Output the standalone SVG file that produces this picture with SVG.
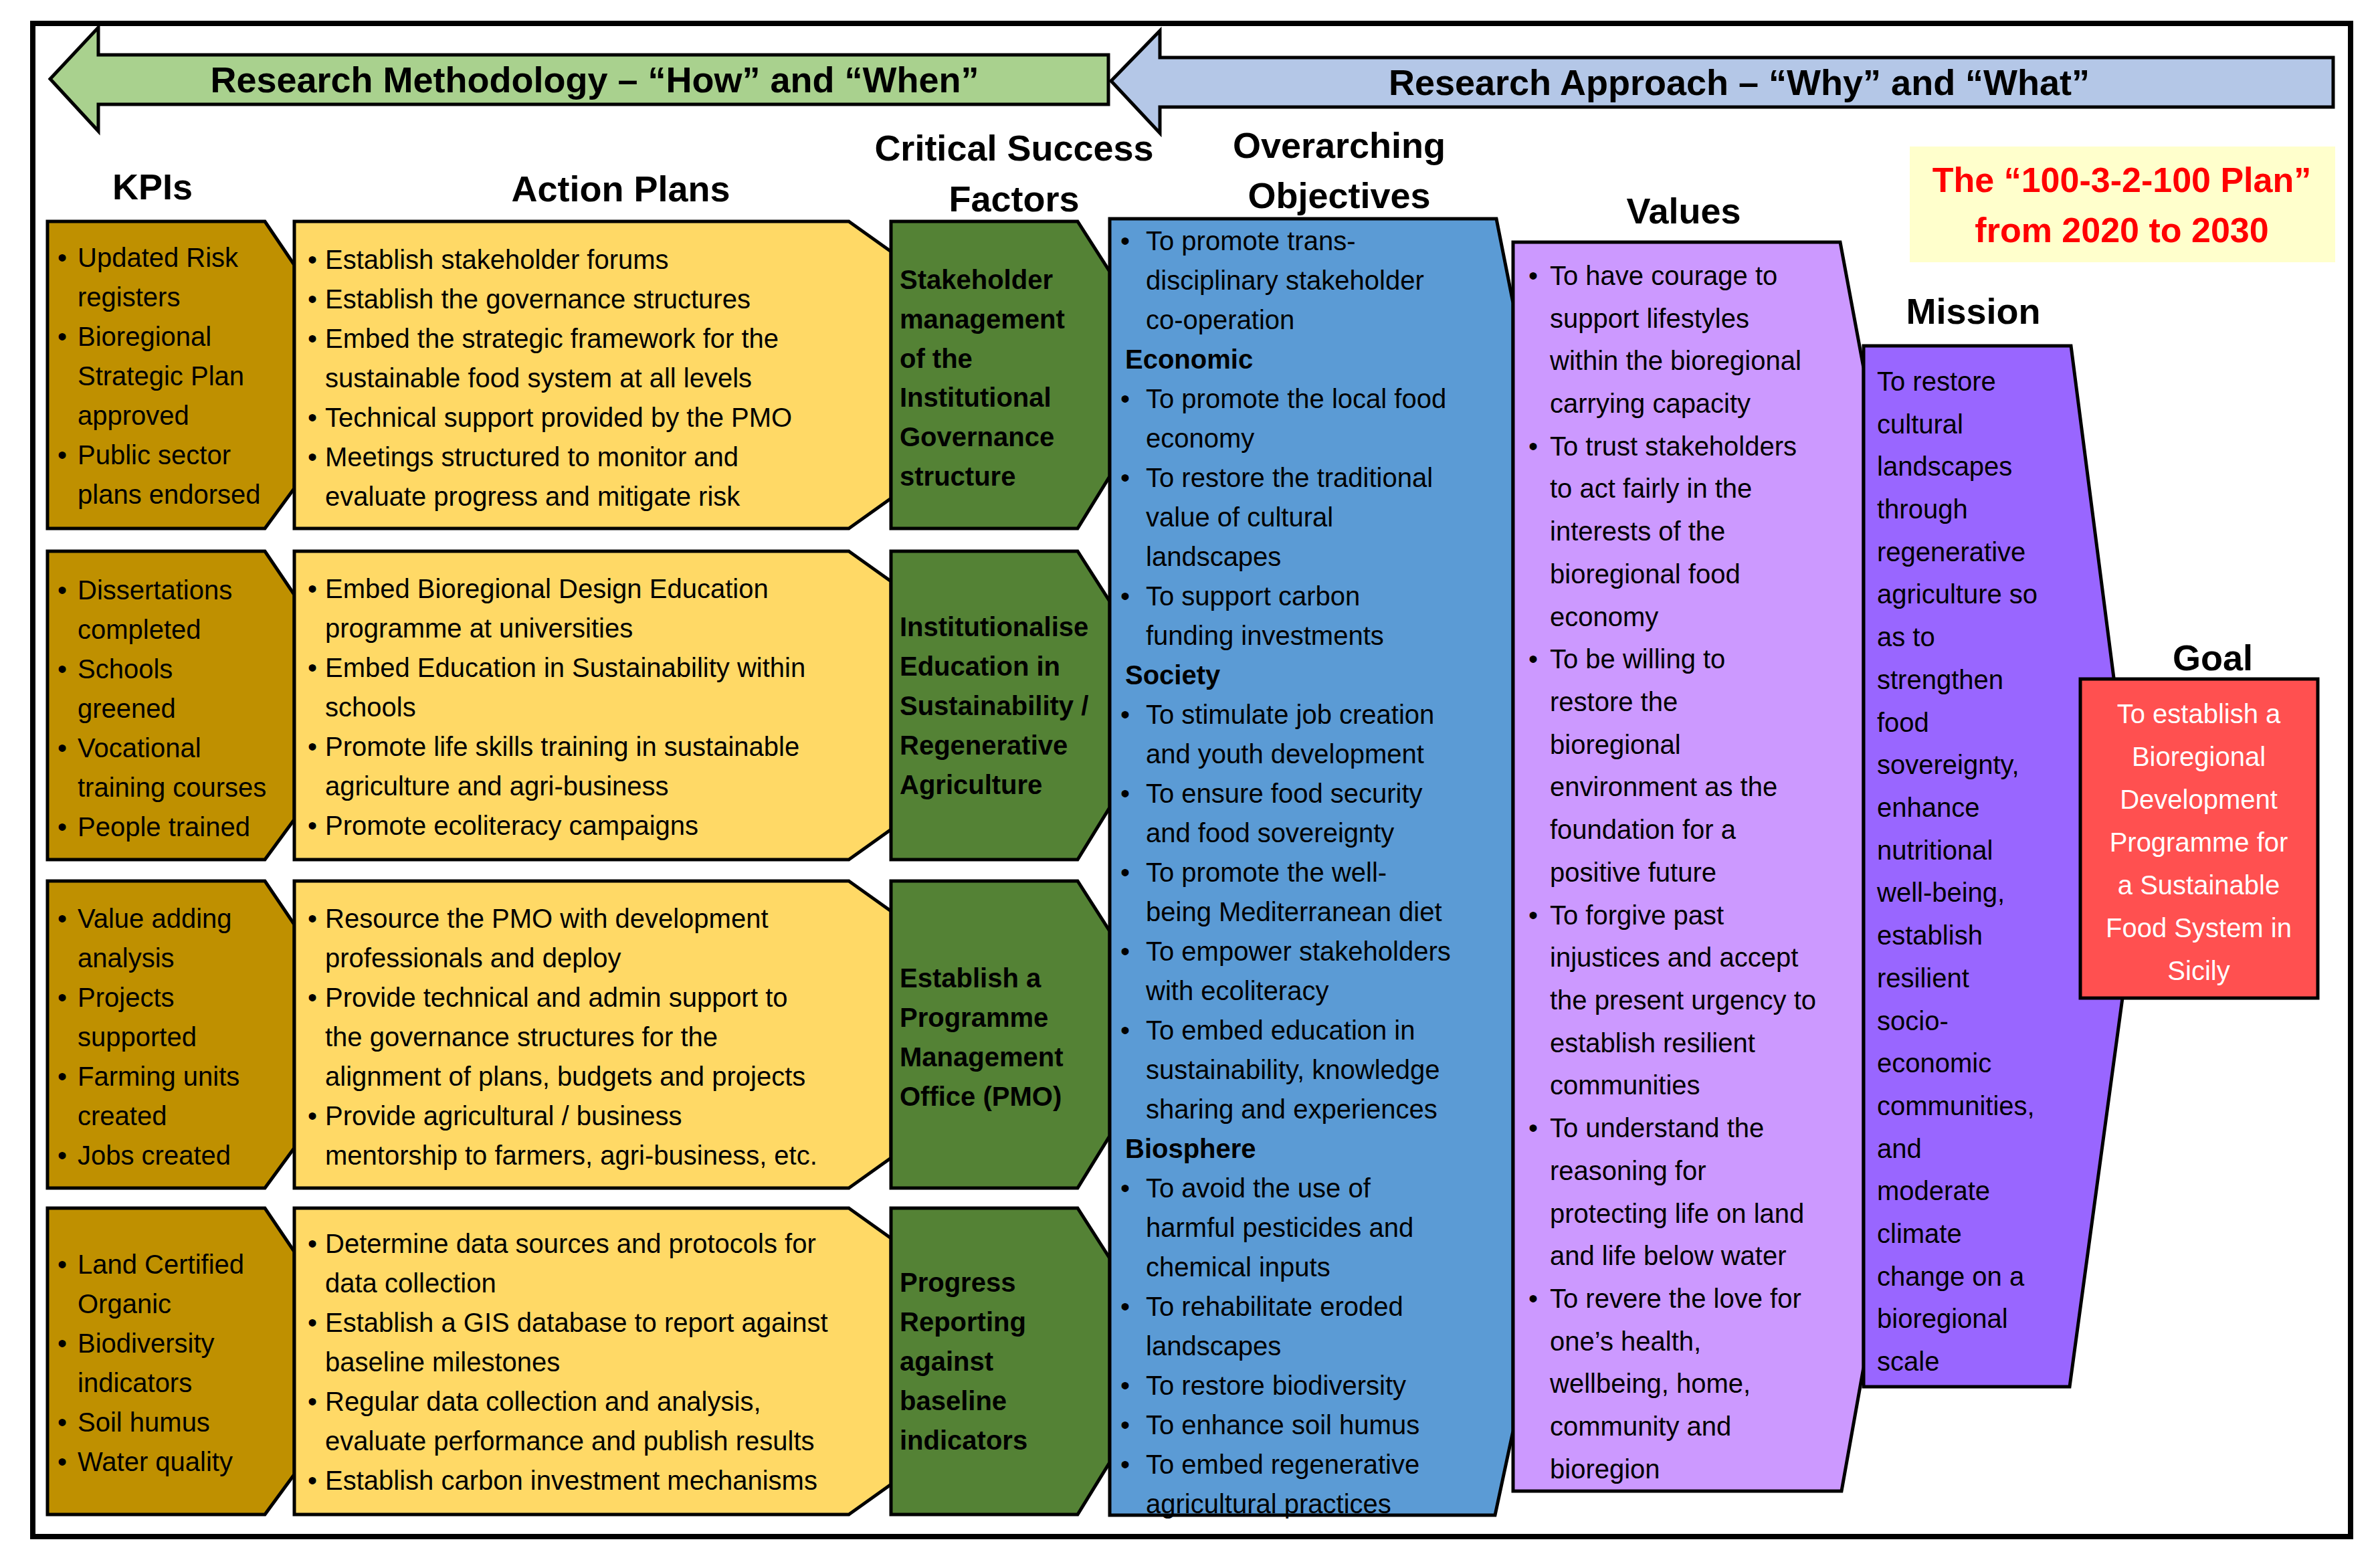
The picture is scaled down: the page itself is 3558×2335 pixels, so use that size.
<svg xmlns="http://www.w3.org/2000/svg" width="3558" height="2335" viewBox="0 0 3558 2335">
<style>
text{font-family:"Liberation Sans",Arial,sans-serif;font-size:40px;fill:#000}
.h{font-size:54px;font-weight:bold;text-anchor:middle}
.b{font-weight:bold}
.s{stroke:#000;stroke-width:5;stroke-linejoin:miter}
.kpi{fill:#BF9000}.ap{fill:#FFD966}.csf{fill:#548235}
.w{fill:#fff}
</style>
<rect x="49" y="35" width="3465" height="2262" fill="#fff" stroke="#000" stroke-width="8"/>
<g id="connectors">
<polygon class="s" fill="#A9D18E" points="75,118 147,41 147,82 1657,82 1657,156 147,156 147,196"/>
<polygon class="s" fill="#B4C7E7" points="1661,121 1734,46 1734,86 3488,86 3488,160 1734,160 1734,199"/>
<text class="h" x="889" y="138">Research Methodology – “How” and “When”</text>
<text class="h" x="2600" y="142">Research Approach – “Why” and “What”</text>
</g>
<g id="headers">
<text class="h" x="228" y="298">KPIs</text>
<text class="h" x="928" y="301">Action Plans</text>
<text class="h" x="1516" y="240">Critical Success</text>
<text class="h" x="1516" y="316">Factors</text>
<text class="h" x="2002" y="236">Overarching</text>
<text class="h" x="2002" y="311">Objectives</text>
<text class="h" x="2517" y="334">Values</text>
<text class="h" x="2950" y="484">Mission</text>
<text class="h" x="3308" y="1002">Goal</text>
</g>
<g id="title">
<rect x="2855" y="219" width="636" height="173" fill="#FFFFCC"/>
<text class="h" x="3172" y="287" style="fill:#FF0000;font-size:52px">The “100-3-2-100 Plan”</text>
<text class="h" x="3172" y="362" style="fill:#FF0000;font-size:52px">from 2020 to 2030</text>
</g>
<g id="kpi1"><polygon class="s kpi" points="71,331 396,331 440,396 440,730 396,790 71,790"/>
<text><tspan x="86" y="399">•</tspan><tspan x="116" y="399">Updated Risk</tspan><tspan x="116" y="458">registers</tspan><tspan x="86" y="517">•</tspan><tspan x="116" y="517">Bioregional</tspan><tspan x="116" y="576">Strategic Plan</tspan><tspan x="116" y="635">approved</tspan><tspan x="86" y="694">•</tspan><tspan x="116" y="694">Public sector</tspan><tspan x="116" y="753">plans endorsed</tspan></text></g>
<g id="kpi2"><polygon class="s kpi" points="71,824 396,824 440,889 440,1225 396,1285 71,1285"/>
<text><tspan x="86" y="896">•</tspan><tspan x="116" y="896">Dissertations</tspan><tspan x="116" y="955">completed</tspan><tspan x="86" y="1014">•</tspan><tspan x="116" y="1014">Schools</tspan><tspan x="116" y="1073">greened</tspan><tspan x="86" y="1132">•</tspan><tspan x="116" y="1132">Vocational</tspan><tspan x="116" y="1191">training courses</tspan><tspan x="86" y="1250">•</tspan><tspan x="116" y="1250">People trained</tspan></text></g>
<g id="kpi3"><polygon class="s kpi" points="71,1317 396,1317 440,1382 440,1716 396,1776 71,1776"/>
<text><tspan x="86" y="1387">•</tspan><tspan x="116" y="1387">Value adding</tspan><tspan x="116" y="1446">analysis</tspan><tspan x="86" y="1505">•</tspan><tspan x="116" y="1505">Projects</tspan><tspan x="116" y="1564">supported</tspan><tspan x="86" y="1623">•</tspan><tspan x="116" y="1623">Farming units</tspan><tspan x="116" y="1682">created</tspan><tspan x="86" y="1741">•</tspan><tspan x="116" y="1741">Jobs created</tspan></text></g>
<g id="kpi4"><polygon class="s kpi" points="71,1806 396,1806 440,1871 440,2204 396,2264 71,2264"/>
<text><tspan x="86" y="1904">•</tspan><tspan x="116" y="1904">Land Certified</tspan><tspan x="116" y="1963">Organic</tspan><tspan x="86" y="2022">•</tspan><tspan x="116" y="2022">Biodiversity</tspan><tspan x="116" y="2081">indicators</tspan><tspan x="86" y="2140">•</tspan><tspan x="116" y="2140">Soil humus</tspan><tspan x="86" y="2199">•</tspan><tspan x="116" y="2199">Water quality</tspan></text></g>
<g id="ap1"><polygon class="s ap" points="440,331 1269,331 1332,376 1332,745 1269,790 440,790"/>
<text><tspan x="460" y="402">•</tspan><tspan x="486" y="402">Establish stakeholder forums</tspan><tspan x="460" y="461">•</tspan><tspan x="486" y="461">Establish the governance structures</tspan><tspan x="460" y="520">•</tspan><tspan x="486" y="520">Embed the strategic framework for the</tspan><tspan x="486" y="579">sustainable food system at all levels</tspan><tspan x="460" y="638">•</tspan><tspan x="486" y="638">Technical support provided by the PMO</tspan><tspan x="460" y="697">•</tspan><tspan x="486" y="697">Meetings structured to monitor and</tspan><tspan x="486" y="756">evaluate progress and mitigate risk</tspan></text></g>
<g id="ap2"><polygon class="s ap" points="440,824 1269,824 1332,869 1332,1240 1269,1285 440,1285"/>
<text><tspan x="460" y="894">•</tspan><tspan x="486" y="894">Embed Bioregional Design Education</tspan><tspan x="486" y="953">programme at universities</tspan><tspan x="460" y="1012">•</tspan><tspan x="486" y="1012">Embed Education in Sustainability within</tspan><tspan x="486" y="1071">schools</tspan><tspan x="460" y="1130">•</tspan><tspan x="486" y="1130">Promote life skills training in sustainable</tspan><tspan x="486" y="1189">agriculture and agri-business</tspan><tspan x="460" y="1248">•</tspan><tspan x="486" y="1248">Promote ecoliteracy campaigns</tspan></text></g>
<g id="ap3"><polygon class="s ap" points="440,1317 1269,1317 1332,1362 1332,1731 1269,1776 440,1776"/>
<text><tspan x="460" y="1387">•</tspan><tspan x="486" y="1387">Resource the PMO with development</tspan><tspan x="486" y="1446">professionals and deploy</tspan><tspan x="460" y="1505">•</tspan><tspan x="486" y="1505">Provide technical and admin support to</tspan><tspan x="486" y="1564">the governance structures for the</tspan><tspan x="486" y="1623">alignment of plans, budgets and projects</tspan><tspan x="460" y="1682">•</tspan><tspan x="486" y="1682">Provide agricultural / business</tspan><tspan x="486" y="1741">mentorship to farmers, agri-business, etc.</tspan></text></g>
<g id="ap4"><polygon class="s ap" points="440,1806 1269,1806 1332,1851 1332,2219 1269,2264 440,2264"/>
<text><tspan x="460" y="1873">•</tspan><tspan x="486" y="1873">Determine data sources and protocols for</tspan><tspan x="486" y="1932">data collection</tspan><tspan x="460" y="1991">•</tspan><tspan x="486" y="1991">Establish a GIS database to report against</tspan><tspan x="486" y="2050">baseline milestones</tspan><tspan x="460" y="2109">•</tspan><tspan x="486" y="2109">Regular data collection and analysis,</tspan><tspan x="486" y="2168">evaluate performance and publish results</tspan><tspan x="460" y="2227">•</tspan><tspan x="486" y="2227">Establish carbon investment mechanisms</tspan></text></g>
<g id="csf1"><polygon class="s csf" points="1332,331 1611,331 1659,406 1659,712 1611,790 1332,790"/>
<text class="b"><tspan x="1345" y="432">Stakeholder</tspan><tspan x="1345" y="491">management</tspan><tspan x="1345" y="550">of the</tspan><tspan x="1345" y="608">Institutional</tspan><tspan x="1345" y="667">Governance</tspan><tspan x="1345" y="726">structure</tspan></text></g>
<g id="csf2"><polygon class="s csf" points="1332,824 1611,824 1659,899 1659,1207 1611,1285 1332,1285"/>
<text class="b"><tspan x="1345" y="951">Institutionalise</tspan><tspan x="1345" y="1010">Education in</tspan><tspan x="1345" y="1069">Sustainability /</tspan><tspan x="1345" y="1128">Regenerative</tspan><tspan x="1345" y="1187">Agriculture</tspan></text></g>
<g id="csf3"><polygon class="s csf" points="1332,1317 1611,1317 1659,1392 1659,1698 1611,1776 1332,1776"/>
<text class="b"><tspan x="1345" y="1476">Establish a</tspan><tspan x="1345" y="1535">Programme</tspan><tspan x="1345" y="1594">Management</tspan><tspan x="1345" y="1653">Office (PMO)</tspan></text></g>
<g id="csf4"><polygon class="s csf" points="1332,1806 1611,1806 1659,1881 1659,2186 1611,2264 1332,2264"/>
<text class="b"><tspan x="1345" y="1931">Progress</tspan><tspan x="1345" y="1990">Reporting</tspan><tspan x="1345" y="2049">against</tspan><tspan x="1345" y="2108">baseline</tspan><tspan x="1345" y="2167">indicators</tspan></text></g>
<g id="objectives"><polygon class="s" fill="#5B9BD5" points="1659,327 2237,327 2262,453 2262,2139 2235,2265 1659,2265"/>
<text><tspan x="1675" y="374">•</tspan><tspan x="1713" y="374">To promote trans-</tspan><tspan x="1713" y="433">disciplinary stakeholder</tspan><tspan x="1713" y="492">co-operation</tspan><tspan x="1682" y="551" font-weight="bold">Economic</tspan><tspan x="1675" y="610">•</tspan><tspan x="1713" y="610">To promote the local food</tspan><tspan x="1713" y="669">economy</tspan><tspan x="1675" y="728">•</tspan><tspan x="1713" y="728">To restore the traditional</tspan><tspan x="1713" y="787">value of cultural</tspan><tspan x="1713" y="846">landscapes</tspan><tspan x="1675" y="905">•</tspan><tspan x="1713" y="905">To support carbon</tspan><tspan x="1713" y="964">funding investments</tspan><tspan x="1682" y="1023" font-weight="bold">Society</tspan><tspan x="1675" y="1082">•</tspan><tspan x="1713" y="1082">To stimulate job creation</tspan><tspan x="1713" y="1141">and youth development</tspan><tspan x="1675" y="1200">•</tspan><tspan x="1713" y="1200">To ensure food security</tspan><tspan x="1713" y="1259">and food sovereignty</tspan><tspan x="1675" y="1318">•</tspan><tspan x="1713" y="1318">To promote the well-</tspan><tspan x="1713" y="1377">being Mediterranean diet</tspan><tspan x="1675" y="1436">•</tspan><tspan x="1713" y="1436">To empower stakeholders</tspan><tspan x="1713" y="1495">with ecoliteracy</tspan><tspan x="1675" y="1554">•</tspan><tspan x="1713" y="1554">To embed education in</tspan><tspan x="1713" y="1613">sustainability, knowledge</tspan><tspan x="1713" y="1672">sharing and experiences</tspan><tspan x="1682" y="1731" font-weight="bold">Biosphere</tspan><tspan x="1675" y="1790">•</tspan><tspan x="1713" y="1790">To avoid the use of</tspan><tspan x="1713" y="1849">harmful pesticides and</tspan><tspan x="1713" y="1908">chemical inputs</tspan><tspan x="1675" y="1967">•</tspan><tspan x="1713" y="1967">To rehabilitate eroded</tspan><tspan x="1713" y="2026">landscapes</tspan><tspan x="1675" y="2085">•</tspan><tspan x="1713" y="2085">To restore biodiversity</tspan><tspan x="1675" y="2144">•</tspan><tspan x="1713" y="2144">To enhance soil humus</tspan><tspan x="1675" y="2203">•</tspan><tspan x="1713" y="2203">To embed regenerative</tspan><tspan x="1713" y="2262">agricultural practices</tspan></text></g>
<g id="values"><polygon class="s" fill="#CC99FF" points="2262,362 2751,362 2786,550 2786,2044 2753,2229 2262,2229"/>
<text><tspan x="2285" y="426">•</tspan><tspan x="2317" y="426">To have courage to</tspan><tspan x="2317" y="490">support lifestyles</tspan><tspan x="2317" y="553">within the bioregional</tspan><tspan x="2317" y="617">carrying capacity</tspan><tspan x="2285" y="681">•</tspan><tspan x="2317" y="681">To trust stakeholders</tspan><tspan x="2317" y="744">to act fairly in the</tspan><tspan x="2317" y="808">interests of the</tspan><tspan x="2317" y="872">bioregional food</tspan><tspan x="2317" y="936">economy</tspan><tspan x="2285" y="999">•</tspan><tspan x="2317" y="999">To be willing to</tspan><tspan x="2317" y="1063">restore the</tspan><tspan x="2317" y="1127">bioregional</tspan><tspan x="2317" y="1190">environment as the</tspan><tspan x="2317" y="1254">foundation for a</tspan><tspan x="2317" y="1318">positive future</tspan><tspan x="2285" y="1382">•</tspan><tspan x="2317" y="1382">To forgive past</tspan><tspan x="2317" y="1445">injustices and accept</tspan><tspan x="2317" y="1509">the present urgency to</tspan><tspan x="2317" y="1573">establish resilient</tspan><tspan x="2317" y="1636">communities</tspan><tspan x="2285" y="1700">•</tspan><tspan x="2317" y="1700">To understand the</tspan><tspan x="2317" y="1764">reasoning for</tspan><tspan x="2317" y="1828">protecting life on land</tspan><tspan x="2317" y="1891">and life below water</tspan><tspan x="2285" y="1955">•</tspan><tspan x="2317" y="1955">To revere the love for</tspan><tspan x="2317" y="2019">one’s health,</tspan><tspan x="2317" y="2082">wellbeing, home,</tspan><tspan x="2317" y="2146">community and</tspan><tspan x="2317" y="2210">bioregion</tspan></text></g>
<g id="mission"><polygon class="s" fill="#9966FF" points="2786,517 3096,517 3198,1308 3094,2073 2786,2073"/>
<text><tspan x="2806" y="584">To restore</tspan><tspan x="2806" y="648">cultural</tspan><tspan x="2806" y="711">landscapes</tspan><tspan x="2806" y="775">through</tspan><tspan x="2806" y="839">regenerative</tspan><tspan x="2806" y="902">agriculture so</tspan><tspan x="2806" y="966">as to</tspan><tspan x="2806" y="1030">strengthen</tspan><tspan x="2806" y="1094">food</tspan><tspan x="2806" y="1157">sovereignty,</tspan><tspan x="2806" y="1221">enhance</tspan><tspan x="2806" y="1285">nutritional</tspan><tspan x="2806" y="1348">well-being,</tspan><tspan x="2806" y="1412">establish</tspan><tspan x="2806" y="1476">resilient</tspan><tspan x="2806" y="1540">socio-</tspan><tspan x="2806" y="1603">economic</tspan><tspan x="2806" y="1667">communities,</tspan><tspan x="2806" y="1731">and</tspan><tspan x="2806" y="1794">moderate</tspan><tspan x="2806" y="1858">climate</tspan><tspan x="2806" y="1922">change on a</tspan><tspan x="2806" y="1985">bioregional</tspan><tspan x="2806" y="2049">scale</tspan></text></g>
<g id="goal"><rect class="s" x="3110" y="1015" width="355" height="477" fill="#FF5050"/>
<text class="w" text-anchor="middle"><tspan x="3287" y="1081">To establish a</tspan><tspan x="3287" y="1145">Bioregional</tspan><tspan x="3287" y="1209">Development</tspan><tspan x="3287" y="1273">Programme for</tspan><tspan x="3287" y="1337">a Sustainable</tspan><tspan x="3287" y="1401">Food System in</tspan><tspan x="3287" y="1465">Sicily</tspan></text></g>
</svg>
